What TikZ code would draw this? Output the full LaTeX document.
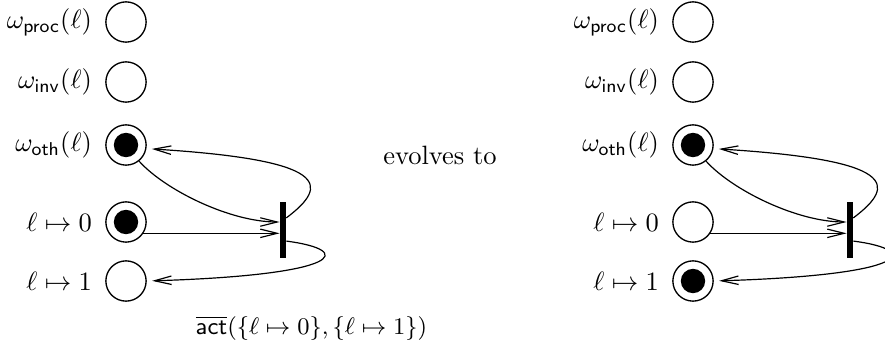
\documentclass[tikz,border=0pt]{standalone}
\usetikzlibrary{arrows.meta,calc}
\tikzset{
  place/.style={circle,draw,line width=0.5pt,minimum size=15.2pt,inner sep=0pt},
  marked/.style={path picture={\fill (path picture bounding box.center) circle (4.6pt);}},
  nomark/.style={},
  transition/.style={rectangle,fill=black,inner sep=0pt,minimum width=2.1pt,minimum height=20.8pt},
  arc/.style={line width=0.45pt,-{Straight Barb[length=6.4pt,width=3.2pt]}},
  toplace/.style={arc,shorten >=2pt},
  lbl/.style={label={[label distance=1.5pt]left:#1}},
}
\newcommand\netbody{%
  \node[place,lbl={$\omega_{\mathsf{proc}}(\ell)$}] (p) at (126,22) {};
  \node[place,lbl={$\omega_{\mathsf{inv}}(\ell)$}] (i) at (126,82) {};
  \node[place,marked,lbl={$\omega_{\mathsf{oth}}(\ell)$}] (o) at (126,145) {};
  \node[place,zmark,lbl={$\ell\mapsto 0$}] (z) at (126,222) {};
  \node[place,wmark,lbl={$\ell\mapsto 1$}] (w) at (126,281) {};
  \node[transition] (t) at (283,230) {};
  \draw[arc] (o.-51) .. controls (165,190) and (230,222) .. ($(t.west)+(0,-8)$);
  \draw[arc] (z.-33) -- (t.west |- z.-33);
  \draw[toplace] ($(t.north east)+(0,16)$) .. controls (330,185) and (330,160) .. (o.-10);
  \draw[toplace] ($(t.south east)+(0,-17)$) .. controls (355,250) and (345,275) .. (w.east);
}
\begin{document}
\begin{tikzpicture}[x=0.3774pt,y=-0.3774pt]
  \useasboundingbox (0,0) rectangle (885,356);
  \begin{scope}[name prefix=L-, zmark/.style=marked, wmark/.style=nomark]
    \netbody
  \end{scope}
  \begin{scope}[shift={(567,0)}, name prefix=R-, zmark/.style=nomark, wmark/.style=marked]
    \netbody
  \end{scope}
  \node (evo) at (440,155) {evolves to};
  \node[font=\small] (act) at (311.5,328) {$\overline{\mathsf{act}}(\{\ell\mapsto 0\},\{\ell\mapsto 1\})$};
\end{tikzpicture}
\end{document}
